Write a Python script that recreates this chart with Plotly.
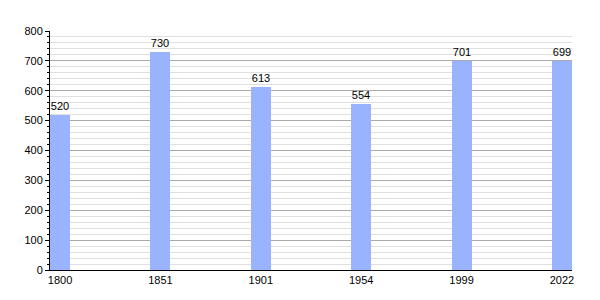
import plotly.graph_objects as go

years = ["1800", "1851", "1901", "1954", "1999", "2022"]
population = [520, 730, 613, 554, 701, 699]

xpos = list(range(len(years)))

fig = go.Figure()
fig.add_trace(go.Bar(
    x=xpos, y=population, width=0.2,
    marker=dict(color="#99b3ff", line=dict(width=0)),
    text=[str(v) for v in population], textposition="outside",
    textfont=dict(family="Liberation Sans, Arial, sans-serif", size=11, color="black"),
    cliponaxis=False,
))
fig.update_layout(
    width=600, height=300,
    margin=dict(l=50, r=28, t=31, b=30),
    plot_bgcolor="white", paper_bgcolor="white",
    showlegend=False,
    font=dict(family="Liberation Sans, Arial, sans-serif", size=11, color="black"),
    bargap=0,
)
fig.update_xaxes(
    range=[-0.1, 5.1], tickvals=xpos, ticktext=years,
    showline=True, linecolor="black", linewidth=1,
    showgrid=False, ticks="", zeroline=False,
    tickfont=dict(size=11),
)
fig.update_yaxes(
    range=[0, 800], dtick=100,
    showline=True, linecolor="black", linewidth=1,
    showgrid=True, gridcolor="#aaaaaa", gridwidth=1,
    ticks="outside", ticklen=4, tickcolor="black",
    zeroline=False,
    minor=dict(dtick=20, showgrid=True, gridcolor="#e0e0e0", gridwidth=1,
               ticks="outside", ticklen=2, tickcolor="black"),
    tickfont=dict(size=11),
)
fig.write_html("out.html")
